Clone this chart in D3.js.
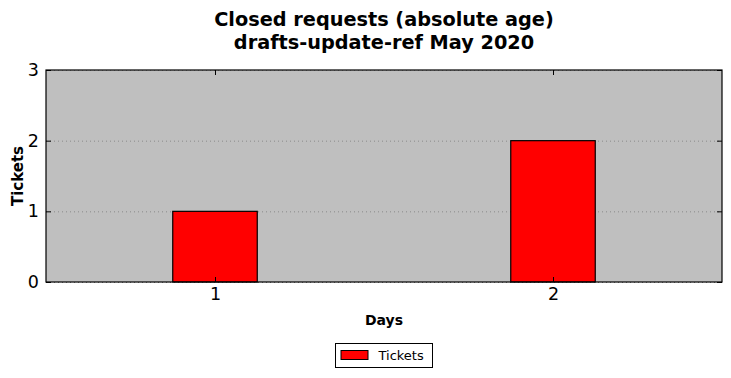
<!DOCTYPE html>
<html>
<head>
<meta charset="utf-8">
<script src="https://cdn.jsdelivr.net/npm/d3@7"></script>
<style>
	body { margin: 0; background: #fff; }
	svg { font-family: "DejaVu Sans", sans-serif; }
</style>
</head>
<body>
<div id="chart"></div>
<script>
// chart data
const days = [1, 2];
const tickets = [1, 2];
const yTickValues = [0, 1, 2, 3];
const titleLines = ['Closed requests (absolute age)', 'drafts-update-ref May 2020'];

const width = 731, height = 378;
const margin = { top: 70, right: 9, bottom: 96, left: 46 };
const innerW = width - margin.left - margin.right;
const innerH = height - margin.top - margin.bottom;

const svg = d3.select('#chart').append('svg').attr('width', width).attr('height', height);

// title
svg.append('text')
	.attr('text-anchor', 'middle')
	.attr('font-weight', 'bold')
	.attr('font-size', '19.3px')
	.selectAll('tspan')
	.data(titleLines)
	.join('tspan')
	.attr('x', margin.left + innerW / 2)
	.attr('y', (d, i) => 26 + i * 22.5)
	.text(d => d);

const g = svg.append('g').attr('transform', `translate(${margin.left}, ${margin.top})`);

// scales
const xScale = d3.scaleLinear().domain([0.5, 2.5]).range([0, innerW]);
const yScale = d3.scaleLinear().domain([0, 3]).range([innerH, 0]);
const barW = 0.25;

// background
g.append('rect')
	.attr('width', innerW)
	.attr('height', innerH)
	.attr('fill', '#bfbfbf');

// grid lines
g.append('g')
	.selectAll('line')
	.data(yTickValues)
	.join('line')
	.attr('x1', 0)
	.attr('x2', innerW)
	.attr('y1', d => yScale(d) + 0.5)
	.attr('y2', d => yScale(d) + 0.5)
	.attr('stroke', '#8a8a8a')
	.attr('stroke-width', 1)
	.attr('stroke-dasharray', '1,3');

// bars
g.append('g')
	.selectAll('rect')
	.data(days.map((d, i) => ({ day: d, value: tickets[i] })))
	.join('rect')
	.attr('x', d => xScale(d.day - barW / 2))
	.attr('y', d => yScale(d.value))
	.attr('width', d => xScale(d.day + barW / 2) - xScale(d.day - barW / 2))
	.attr('height', d => innerH - yScale(d.value))
	.attr('fill', '#ff0000')
	.attr('stroke', '#000')
	.attr('stroke-width', 1.2);

// axes (ticks inward, on all four sides)
const xAxis = d3.axisBottom(xScale).tickValues(days).tickSizeInner(-5).tickSizeOuter(0).tickPadding(6).tickFormat(d3.format('d'));
const xAxisTop = d3.axisTop(xScale).tickValues(days).tickSizeInner(-5).tickSizeOuter(0).tickFormat('');
const yAxis = d3.axisLeft(yScale).tickValues(yTickValues).tickSizeInner(-5).tickSizeOuter(0).tickPadding(7).tickFormat(d3.format('d'));
const yAxisRight = d3.axisRight(yScale).tickValues(yTickValues).tickSizeInner(-5).tickSizeOuter(0).tickFormat('');

const styleAxis = sel => {
	sel.select('.domain').remove();
	sel.selectAll('text').attr('font-size', '17.5px').attr('fill', '#000').attr('font-family', '"DejaVu Sans", sans-serif');
	sel.selectAll('line').attr('stroke', '#000');
};

g.append('g').attr('transform', `translate(0, ${innerH})`).call(xAxis).call(styleAxis);
g.append('g').call(xAxisTop).call(styleAxis);
g.append('g').call(yAxis).call(styleAxis);
g.append('g').attr('transform', `translate(${innerW}, 0)`).call(yAxisRight).call(styleAxis);

// frame
g.append('rect')
	.attr('width', innerW)
	.attr('height', innerH)
	.attr('fill', 'none')
	.attr('stroke', '#000')
	.attr('stroke-width', 1.2);

// axis labels
g.append('text')
	.attr('text-anchor', 'middle')
	.attr('font-weight', 'bold')
	.attr('font-size', '14px')
	.attr('x', innerW / 2)
	.attr('y', innerH + 43)
	.text('Days');

g.append('text')
	.attr('text-anchor', 'middle')
	.attr('font-weight', 'bold')
	.attr('font-size', '15px')
	.attr('transform', 'rotate(-90)')
	.attr('x', -innerH / 2)
	.attr('y', -23)
	.text('Tickets');

// legend
const legend = svg.append('g').attr('transform', 'translate(335.5, 343.5)');
legend.append('rect')
	.attr('width', 97)
	.attr('height', 24)
	.attr('fill', '#fff')
	.attr('stroke', '#000')
	.attr('stroke-width', 1);
legend.append('rect')
	.attr('x', 5.5)
	.attr('y', 7)
	.attr('width', 27)
	.attr('height', 9)
	.attr('fill', '#ff0000')
	.attr('stroke', '#000')
	.attr('stroke-width', 1);
legend.append('text')
	.attr('x', 43)
	.attr('y', 16.5)
	.attr('font-size', '13px')
	.text('Tickets');
</script>
</body>
</html>
